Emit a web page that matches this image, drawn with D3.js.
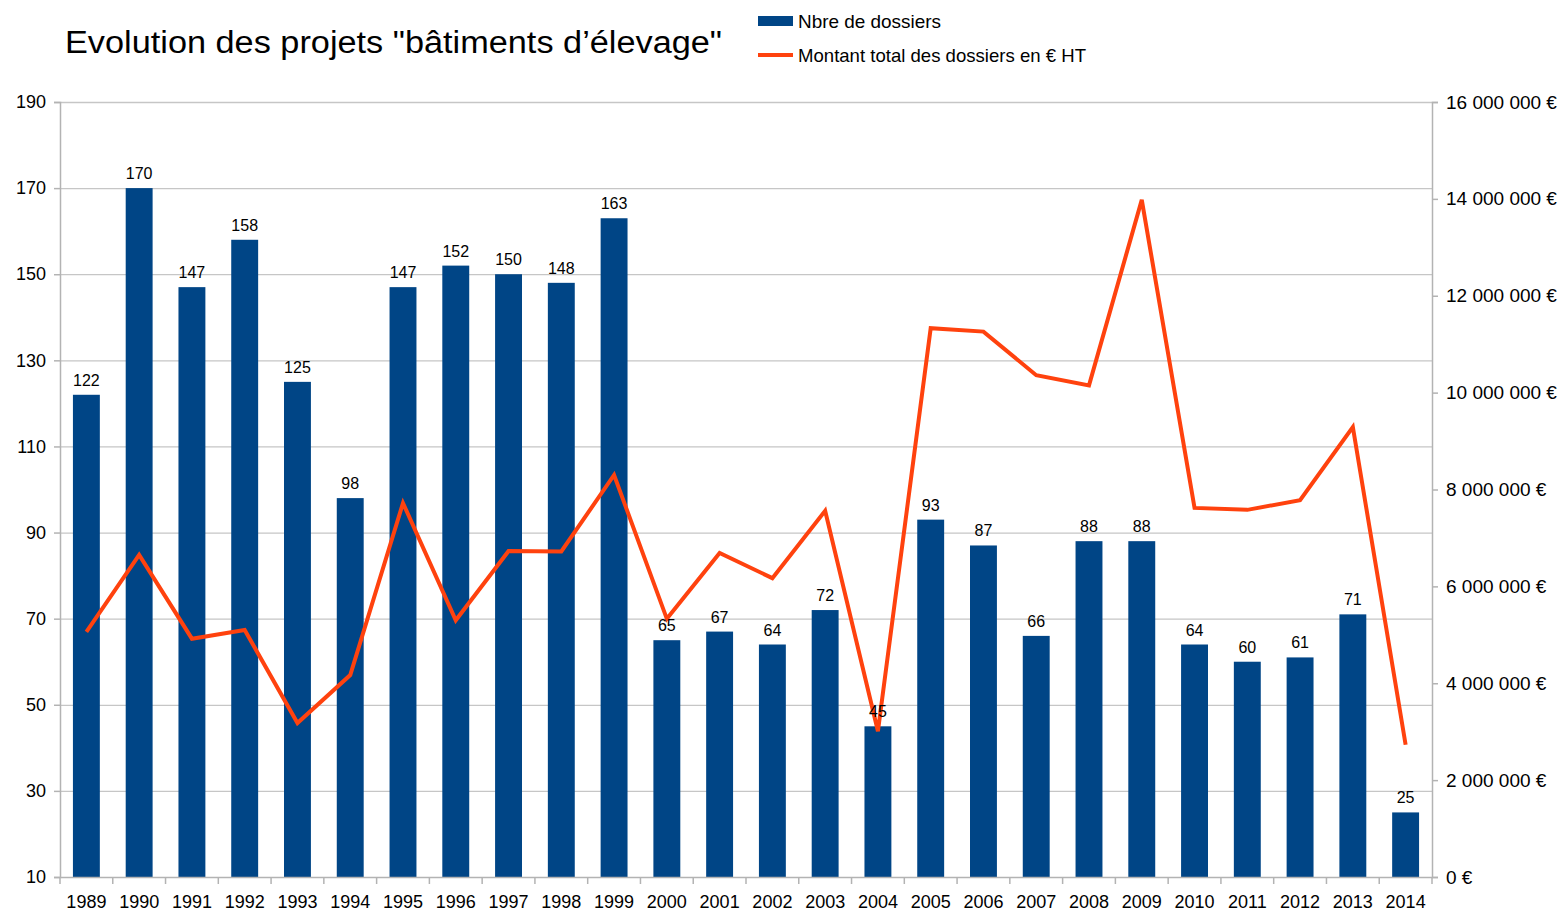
<!DOCTYPE html>
<html><head><meta charset="utf-8">
<script src="https://cdn.jsdelivr.net/npm/d3@7"></script>
<style>body{margin:0;background:#fff}svg{display:block}text{font-family:"Liberation Sans",Arial,sans-serif;fill:#000}</style>
</head><body><svg id="c" width="1562" height="912"></svg>
<script>
const years = ["1989","1990","1991","1992","1993","1994","1995","1996","1997","1998","1999","2000","2001","2002","2003","2004","2005","2006","2007","2008","2009","2010","2011","2012","2013","2014"];
const dossiers = [122,170,147,158,125,98,147,152,150,148,163,65,67,64,72,45,93,87,66,88,88,64,60,61,71,25];
const montants = [5060000,6650000,4920000,5100000,3180000,4170000,7720000,5300000,6730000,6720000,8300000,5330000,6690000,6170000,7560000,3010000,11330000,11260000,10360000,10150000,13980000,7620000,7580000,7780000,9290000,2730000];
const leftTicks = [10,30,50,70,90,110,130,150,170,190];
const rightTicks = [0,2000000,4000000,6000000,8000000,10000000,12000000,14000000,16000000];
const title = "Evolution des projets \"bâtiments d’élevage\"";
const legendLabels = ["Nbre de dossiers","Montant total des dossiers en € HT"];

const svg = d3.select("#c");
const L=60,R=1432,T=102,B=877;
const x = d3.scaleBand().domain(years).range([L,R]).paddingInner(0.49).paddingOuter(0.245);
const xc = d3.scaleBand().domain(years).range([L,R]);
const yL = d3.scaleLinear().domain([10,190]).range([B,T]);
const yR = d3.scaleLinear().domain([0,16000000]).range([B,T]);
const fmtR = v => d3.format(",")(v).replace(/,/g," ")+" €";

// grid
svg.append("g").selectAll("line").data(leftTicks.slice(1)).join("line")
 .attr("x1",L).attr("x2",R).attr("y1",d=>yL(d)+0.5).attr("y2",d=>yL(d)+0.5)
 .attr("stroke","#c6c6c6").attr("stroke-width",1.3);

// bars
svg.append("g").selectAll("rect").data(years).join("rect")
 .attr("x",d=>x(d)).attr("width",x.bandwidth())
 .attr("y",(d,i)=>yL(dossiers[i])).attr("height",(d,i)=>B-yL(dossiers[i]))
 .attr("fill","#004586");

// axes
const axL = svg.append("g").attr("transform",`translate(${L},0)`)
 .call(d3.axisLeft(yL).tickValues(leftTicks).tickSize(6).tickPadding(8).tickFormat(d3.format("d")));
const axR = svg.append("g").attr("transform",`translate(${R},0)`)
 .call(d3.axisRight(yR).tickValues(rightTicks).tickSize(6).tickPadding(8).tickFormat(fmtR));
const axB = svg.append("g").attr("transform",`translate(0,${B})`)
 .call(d3.axisBottom(xc).tickSize(0).tickPadding(18));
[axL,axR,axB].forEach(a=>{a.select(".domain").attr("stroke","#b3b3b3").attr("stroke-width",1.5);
 a.selectAll(".tick line").attr("stroke","#b3b3b3").attr("stroke-width",1.5);
 a.selectAll("text").attr("font-size",18).attr("font-family","Liberation Sans, Arial, sans-serif").attr("fill","#000");});
axR.selectAll("text").attr("font-size",19);
// category boundary ticks
axB.append("g").selectAll("line").data(years.concat(["end"])).join("line")
 .attr("x1",(d,i)=>L+i*xc.step()).attr("x2",(d,i)=>L+i*xc.step())
 .attr("y1",0).attr("y2",7).attr("stroke","#b3b3b3").attr("stroke-width",1.5);
axB.selectAll(".tick text").attr("dy","0.71em");

// line
const line = d3.line().x((d,i)=>xc(years[i])+xc.bandwidth()/2).y(d=>yR(d));
svg.append("path").datum(montants).attr("d",line).attr("fill","none")
 .attr("stroke","#ff420e").attr("stroke-width",4).attr("stroke-linejoin","miter");

// data labels
svg.append("g").selectAll("text").data(years).join("text")
 .attr("x",d=>x(d)+x.bandwidth()/2).attr("y",(d,i)=>yL(dossiers[i])-9)
 .attr("text-anchor","middle").attr("font-size",16).text((d,i)=>dossiers[i]);

// title
svg.append("text").attr("x",65).attr("y",53).attr("font-size",31)
 .attr("font-family","Lato,'Open Sans',sans-serif")
 .attr("textLength",657).attr("lengthAdjust","spacingAndGlyphs").text(title);

// legend
svg.append("rect").attr("x",758).attr("y",16).attr("width",35).attr("height",10).attr("fill","#004586");
svg.append("text").attr("x",798).attr("y",28).attr("font-size",19)
 .attr("textLength",143).attr("lengthAdjust","spacingAndGlyphs").text(legendLabels[0]);
svg.append("line").attr("x1",758).attr("x2",793).attr("y1",55).attr("y2",55).attr("stroke","#ff420e").attr("stroke-width",4);
svg.append("text").attr("x",798).attr("y",62).attr("font-size",19)
 .attr("textLength",288).attr("lengthAdjust","spacingAndGlyphs").text(legendLabels[1]);
</script></body></html>
